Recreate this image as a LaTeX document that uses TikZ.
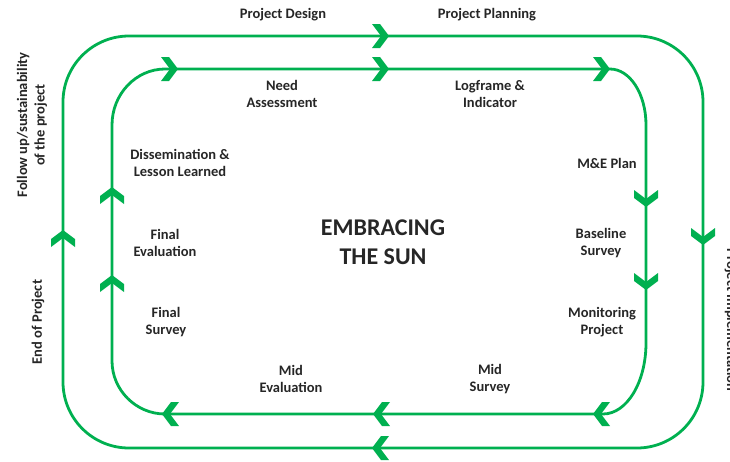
\documentclass[tikz,border=0pt]{standalone}
\usepackage{fontspec}
\setmainfont{Carlito}
\definecolor{grn}{RGB}{0,176,80}
\definecolor{txt}{RGB}{38,38,38}
\begin{document}
\begin{tikzpicture}[x=1pt,y=-1pt,
  loopline/.style={draw=grn,line width=2.8pt},
  lbl/.style={font=\fontsize{14.5}{17.5}\selectfont\bfseries, text=txt, align=center, inner sep=0pt},
  ttl/.style={font=\fontsize{24}{29}\selectfont\bfseries, text=txt, align=center, inner sep=0pt},
  chev/.pic={\fill[grn] (0,0) -- (-9,12) -- (-17,12) -- (-8,0) -- (-17,-12) -- (-9,-12) -- cycle;}]
\useasboundingbox (0,0) rectangle (730,461);
% outer loop
\draw[loopline, rounded corners=66pt] (63,36) rectangle (703,448);
% inner loop
\draw[loopline] (165,69) -- (610,69) .. controls (630,69) and (646,94) .. (646,125)
  -- (646,343) .. controls (646,382) and (627,414) .. (603,414)
  -- (165,414) .. controls (136,414) and (112,390) .. (112,361)
  -- (112,125) .. controls (112,94) and (136,69) .. (165,69) -- cycle;
% outer chevrons
\pic at (389,36) {chev};
\pic[rotate=180] at (372,448) {chev};
\pic[rotate=90] at (63,230) {chev};
\pic[rotate=-90] at (703,245) {chev};
% inner chevrons
\pic at (178,69) {chev};
\pic at (389,69) {chev};
\pic at (610,69) {chev};
\pic[rotate=-90] at (646,207) {chev};
\pic[rotate=-90] at (646,290) {chev};
\pic[rotate=180] at (593,414) {chev};
\pic[rotate=180] at (373,414) {chev};
\pic[rotate=180] at (162,414) {chev};
\pic[rotate=90] at (112,187) {chev};
\pic[rotate=90] at (112,275) {chev};
% labels
\node[lbl] (design) at (283,15) {Project Design};
\node[lbl] (planning) at (487,15) {Project Planning};
\node[lbl] (need) at (282,94) {Need\\Assessment};
\node[lbl] (logframe) at (490,94) {Logframe \&\\Indicator};
\node[lbl] (me) at (607,163) {M\&E Plan};
\node[lbl] (baseline) at (601,243) {Baseline\\Survey};
\node[lbl] (monitor) at (602,322) {Monitoring\\Project};
\node[lbl] (midsurvey) at (490,379) {Mid\\Survey};
\node[lbl] (mideval) at (291,379) {Mid\\Evaluation};
\node[lbl] (finalsurvey) at (166,322) {Final\\Survey};
\node[lbl] (finaleval) at (165,243) {Final\\Evaluation};
\node[lbl] (dissem) at (180,163) {Dissemination \&\\Lesson Learned};
\node[ttl] (sun) at (383,242) {EMBRACING\\THE SUN};
\node[lbl, rotate=90] (follow) at (32,125) {Follow up/sustainability\\of the project};
\node[lbl, rotate=90] (endp) at (38,322) {End of Project};
\node[lbl, rotate=-90] (impl) at (731,320) {Project Implementation};
\end{tikzpicture}
\end{document}
